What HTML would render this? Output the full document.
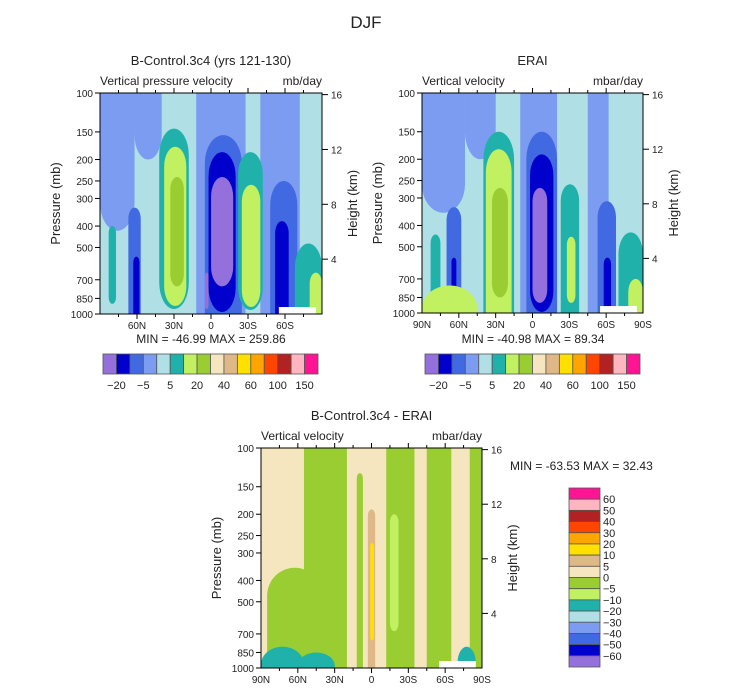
<!DOCTYPE html>
<html><head><meta charset="utf-8"><style>
body{margin:0;background:#fff;width:733px;height:693px;overflow:hidden}
svg text{font-family:"Liberation Sans",sans-serif;fill:#222}
</style></head><body>
<svg id="fig" width="733" height="693" xmlns="http://www.w3.org/2000/svg"></svg>
<script>
const levelColors=["#9370DB","#0000CD","#4169E1","#7B9CF0","#B0E0E6","#20B2AA","#C1F060","#9ACD32","#F5E6C0","#DEB887","#FFE000","#FFA500","#FF4500","#B22222","#FFB6C1","#FF1493"];
const topBarLabels=["-20","-5","5","20","40","60","100","150"];
const diffBarLabels=["60","50","40","30","20","10","5","0","-5","-10","-20","-30","-40","-50","-60"];
const latTicks=[60,30,0,-30,-60];
const latLabels=["60N","30N","0","30S","60S"];
const latTicksFull=[90,60,30,0,-30,-60,-90];
const latLabelsFull=["90N","60N","30N","0","30S","60S","90S"];
const pTicks=[100,150,200,250,300,400,500,700,850,1000];
const hTicks=[16,12,8,4];
// blobs: lat north edge, lat south edge, top p, bottom p, level index
const m1Lat1=[90,62,12,-40,83,67,63,42,38,33,8,5,3,2,0,5,-22,-25,-48,-52,-68,-80];
const m1Lat2=[62,40,-28,-72,77,57,58,18,20,22,-28,-25,-6,-20,-18,2,-42,-40,-70,-63,-90,-90];
const m1P1=[100,100,100,100,400,330,550,145,175,240,100,155,190,185,240,650,185,260,250,380,480,650];
const m1P2=[420,200,1000,1000,900,1000,1000,950,920,750,1000,1000,1000,980,750,950,960,930,1000,1000,1000,1000];
const m1Lev=[3,3,3,3,5,2,1,5,6,7,3,2,2,1,0,0,5,6,2,1,5,6];
const m2Lat1=[90,55,10,-45,83,70,66,40,38,33,5,2,0,-23,-28,-53,-58,-70,90,-78];
const m2Lat2=[55,30,-20,-62,75,58,62,15,17,20,-20,-17,-12,-38,-35,-68,-64,-90,45,-90];
const m2P1=[100,100,100,100,440,330,560,150,180,270,150,190,270,260,450,310,560,430,750,700];
const m2P2=[350,200,1000,1000,1000,1000,950,1000,1000,850,1000,990,900,1000,900,1000,1000,1000,1000,1000];
const m2Lev=[3,3,3,3,5,2,1,5,6,7,2,1,0,5,6,2,1,5,6,6];
const m3Lat1=[55,85,12,-12,-45,-80,3,1,-15,90,60,-70];
const m3Lat2=[20,40,7,-35,-65,-90,-3,-2,-22,55,30,-85];
const m3P1=[100,350,130,100,100,100,190,270,200,800,850,800];
const m3P2=[1000,1000,1000,1000,1000,1000,1000,750,680,1000,1000,1000];
const m3Lev=[7,7,7,7,7,7,9,10,6,5,5,5];

const NS="http://www.w3.org/2000/svg";
const svg=document.getElementById('fig');
function mk(tag,attrs,parent){const e=document.createElementNS(NS,tag);for(const k in attrs)e.setAttribute(k,attrs[k]);(parent||svg).appendChild(e);return e;}
function txt(x,y,s,size,anchor,parent,rot){const t=mk('text',{x:x,y:y,'font-size':size,'text-anchor':anchor||'middle'},parent);if(rot)t.setAttribute('transform','rotate(-90 '+x+' '+y+')');t.textContent=s;return t;}
function blobPath(x1,x2,y1,y2,roundTop,roundBot){
  const w=x2-x1,h=y2-y1,rx=w/2;
  let ry=Math.min(w*0.9,h/((roundTop&&roundBot)?2:1.2),28);
  const rt=roundTop?ry:0, rb=roundBot?ry:0;
  let d='M'+x1+','+(y1+rt);
  if(rt)d+=' A'+rx+','+rt+' 0 0 1 '+x2+','+(y1+rt);else d+=' L'+x1+','+y1+' L'+x2+','+y1;
  d+=' L'+x2+','+(y2-rb);
  if(rb)d+=' A'+rx+','+rb+' 0 0 1 '+x1+','+(y2-rb);else d+=' L'+x2+','+y2+' L'+x1+','+y2;
  return d+' Z';
}
function panel(cfg){
  const g=mk('g',{});
  
  
  const X=lat=>cfg.x0+(90-lat)/180*cfg.w;
  const Y=p=>cfg.y0+Math.log10(p/100)*cfg.h;
  const clipId=cfg.name+'-clip';
  const cp=mk('clipPath',{id:clipId},g);mk('rect',{x:cfg.x0,y:cfg.y0,width:cfg.w,height:cfg.h},cp);
  const fg=mk('g',{'clip-path':'url(#'+clipId+')'},g);
  const bg=mk('rect',{x:cfg.x0,y:cfg.y0,width:cfg.w,height:cfg.h,fill:levelColors[cfg.bg]},fg);
  
  
  for(let i=0;i<cfg.lev.length;i++){
    const x1=X(cfg.lat1[i]),x2=X(cfg.lat2[i]),y1=Y(cfg.p1[i]),y2=Y(cfg.p2[i]);
    const r=mk('path',{d:blobPath(x1,x2,y1,y2,cfg.p1[i]>100,cfg.p2[i]<1000),fill:levelColors[cfg.lev[i]]},fg);
    
    
  }
  mk('rect',{x:X(-55),y:Y(930),width:X(-85)-X(-55),height:Y(1000)-Y(930),fill:'#fff'},fg);
  mk('rect',{x:cfg.x0,y:cfg.y0,width:cfg.w,height:cfg.h,fill:'none',stroke:'#000','stroke-width':1},g);
  const lt=cfg.full?latTicksFull:latTicks, ll=cfg.full?latLabelsFull:latLabels;
  for(let la=-75;la<=75;la+=15){const x=X(la);mk('line',{x1:x,y1:cfg.y0+cfg.h,x2:x,y2:cfg.y0+cfg.h+(la%30===0?5:3),stroke:'#000'},g);mk('line',{x1:x,y1:cfg.y0,x2:x,y2:cfg.y0-(la%30===0?5:3),stroke:'#000'},g);}
  lt.forEach((la,i)=>{const t=txt(X(la),cfg.y0+cfg.h+15,ll[i],10,'middle',g);});
  pTicks.forEach(p=>{const y=Y(p);mk('line',{x1:cfg.x0,y1:y,x2:cfg.x0-5,y2:y,stroke:'#000'},g);const t=txt(cfg.x0-7,y+4,String(p),10,'end',g);});
  hTicks.forEach(hk=>{const p=1000*Math.exp(-hk/7);const y=Y(p);mk('line',{x1:cfg.x0+cfg.w,y1:y,x2:cfg.x0+cfg.w+6,y2:y,stroke:'#000'},g);const t=txt(cfg.x0+cfg.w+9,y+4,String(hk),10,'start',g);});
  const yt=txt(cfg.x0-40,cfg.y0+cfg.h/2,'Pressure (mb)',13,'middle',g,true);
  const ht=txt(cfg.x0+cfg.w+35,cfg.y0+cfg.h/2,'Height (km)',13,'middle',g,true);
  const st=txt(cfg.x0,cfg.y0-8,cfg.sub,12,'start',g);
  const ut=txt(cfg.x0+cfg.w,cfg.y0-8,cfg.units,12,'end',g);
  const tt=txt(cfg.x0+cfg.w/2,cfg.y0-28,cfg.title,13,'middle',g);
}
const t0=txt(366,28,'DJF',17,'middle');



panel({name:'model-panel',x0:100,y0:93,w:222,h:221,bg:4,lat1:m1Lat1,lat2:m1Lat2,p1:m1P1,p2:m1P2,lev:m1Lev,title:'B-Control.3c4 (yrs 121-130)',sub:'Vertical pressure velocity',units:'mb/day',full:false});
panel({name:'erai-panel',x0:422,y0:93,w:221,h:220,bg:4,lat1:m2Lat1,lat2:m2Lat2,p1:m2P1,p2:m2P2,lev:m2Lev,title:'ERAI',sub:'Vertical velocity',units:'mbar/day',full:true});
panel({name:'difference-panel',x0:261,y0:448,w:221,h:220,bg:8,lat1:m3Lat1,lat2:m3Lat2,p1:m3P1,p2:m3P2,lev:m3Lev,title:'B-Control.3c4 - ERAI',sub:'Vertical velocity',units:'mbar/day',full:true});

function stats(x,y,s,anchor){const t=txt(x,y,s,12,anchor||'middle');}
stats(211,343,'MIN = -46.99   MAX = 259.86');
stats(533,343,'MIN = -40.98   MAX = 89.34');
stats(510,470,'MIN = -63.53   MAX =  32.43','start');

function hbar(x0,y0,w,h,name){
  const g=mk('g',{});
  const bw=w/levelColors.length;
  levelColors.forEach((c,i)=>{const r=mk('rect',{x:x0+i*bw,y:y0,width:bw,height:h,fill:c,stroke:'#555','stroke-width':0.8},g);});
  topBarLabels.forEach((s,i)=>{const t=txt(x0+(2*i+1)*bw,y0+h+15,s.replace('-','\u2212'),11,'middle',g);});
}
hbar(103,354,215,20,'model-colorbar');
hbar(425,354,215,20,'erai-colorbar');
(function(){
  const g=mk('g',{});
  const x0=569,y0=488,w=31,H=179,bh=H/16;
  for(let i=0;i<16;i++){const r=mk('rect',{x:x0,y:y0+i*bh,width:w,height:bh,fill:levelColors[15-i],stroke:'#555','stroke-width':0.8},g);}
  diffBarLabels.forEach((s,i)=>{const t=txt(x0+w+3,y0+(i+1)*bh+4,s.replace('-','\u2212'),11,'start',g);});
})();
</script>
</body></html>
